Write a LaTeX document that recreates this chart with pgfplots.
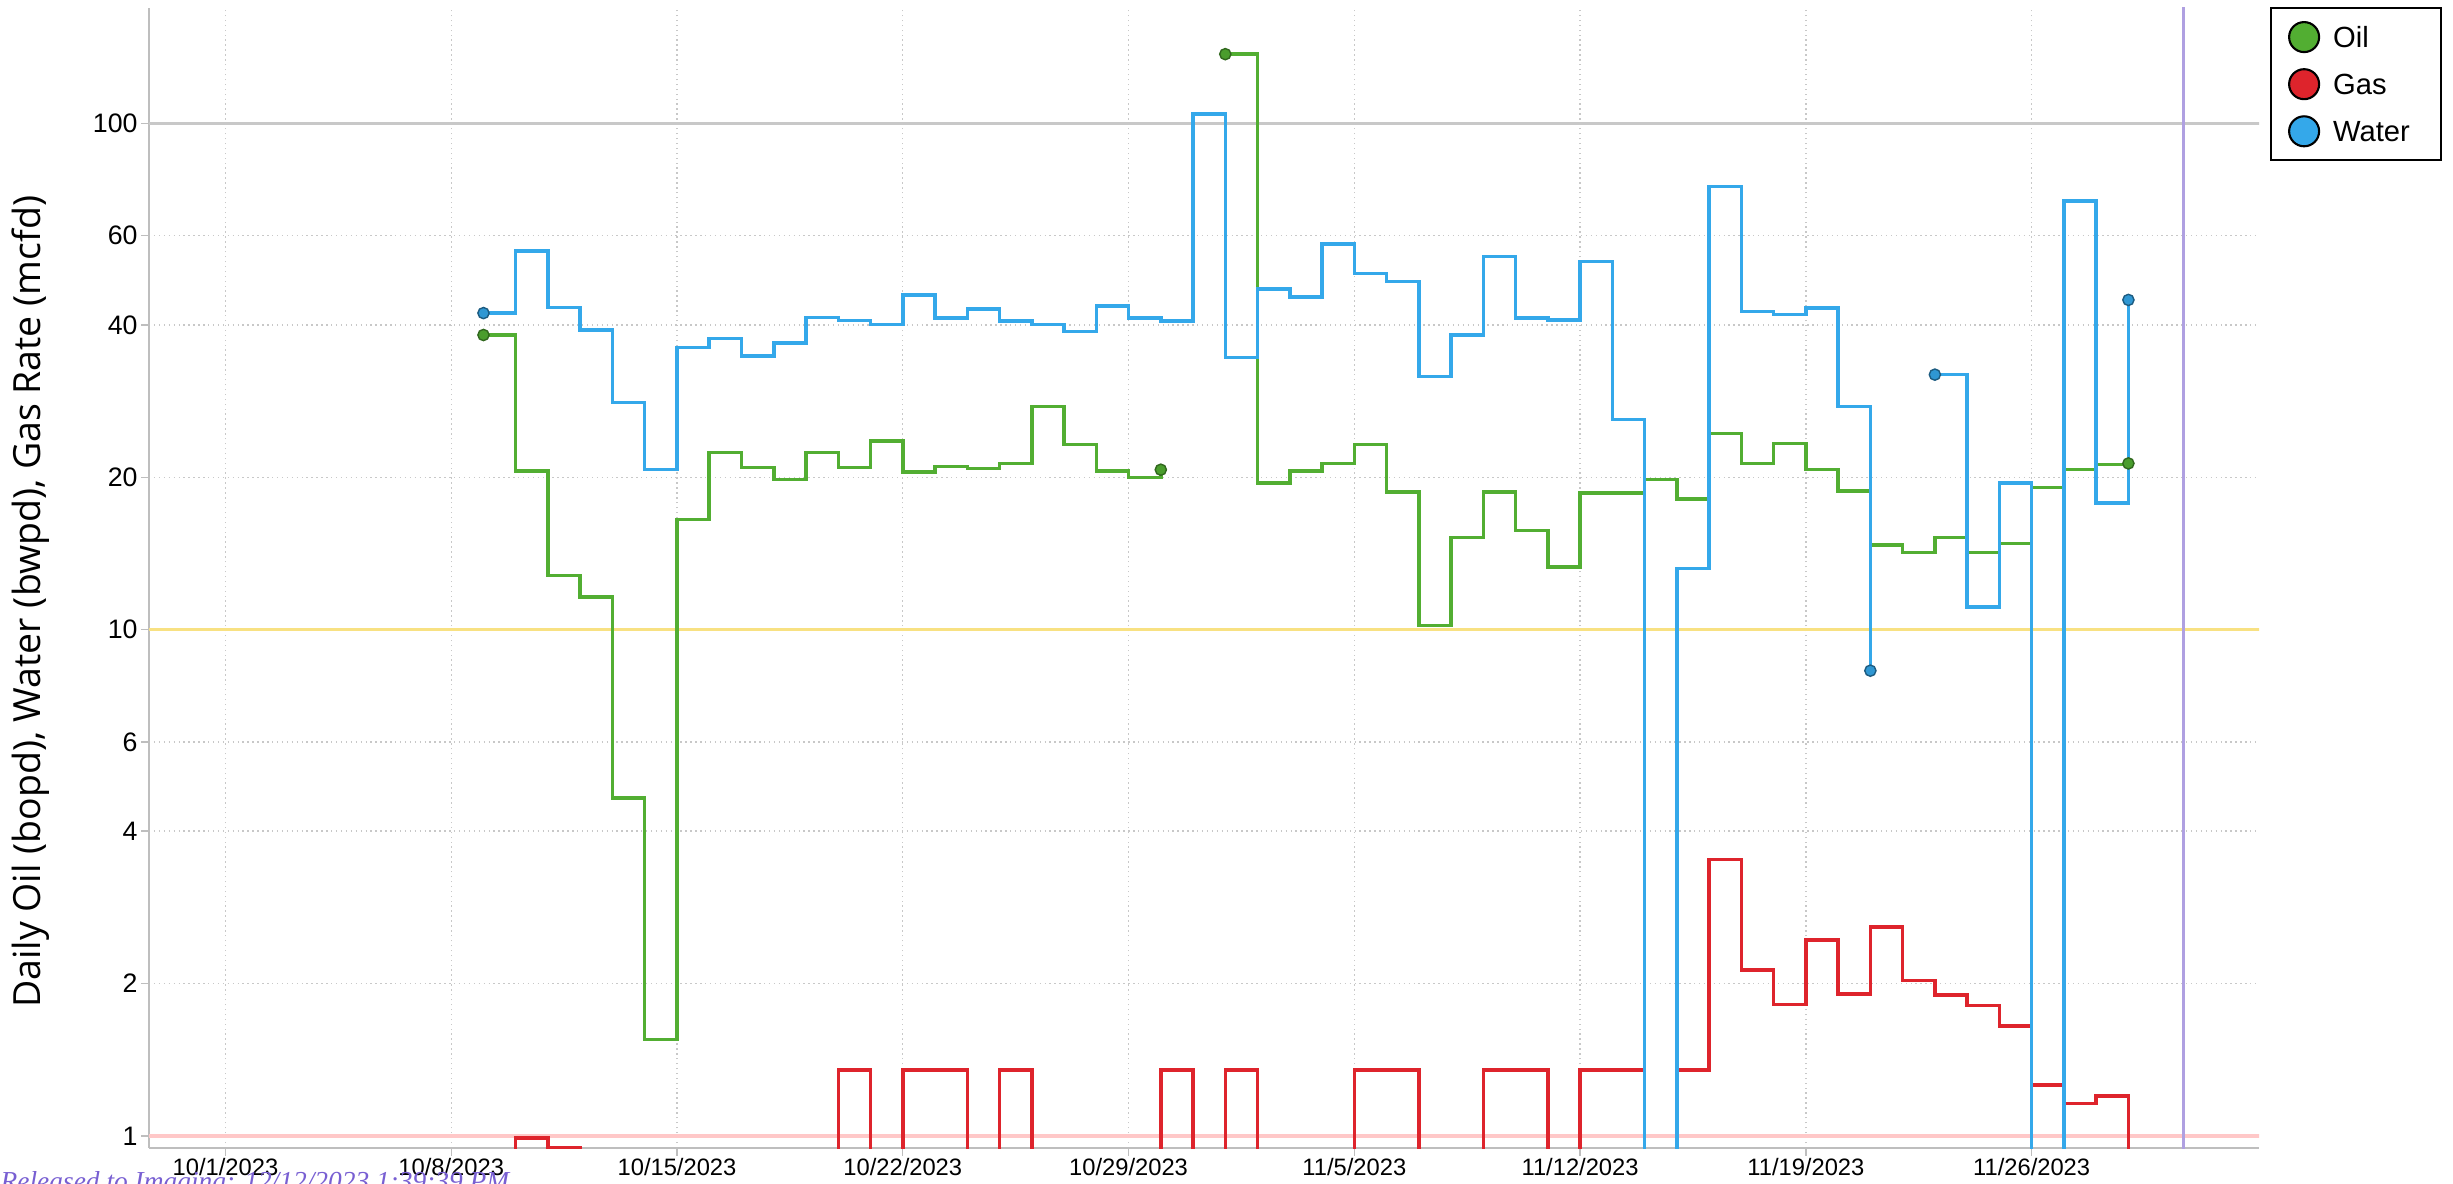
\documentclass[border=0pt]{standalone}
\usepackage{fontspec}
\setmainfont{Liberation Sans}
\newfontfamily\labelfont{Open Sans}
\newfontfamily\wmfont{Liberation Serif}
\usepackage{pgfplots}
\pgfplotsset{compat=1.18}
\definecolor{oilc}{RGB}{82,174,50}
\definecolor{waterc}{RGB}{52,168,234}
\definecolor{gasc}{RGB}{222,36,44}
\definecolor{axisgray}{RGB}{190,190,190}
\definecolor{gridgray}{RGB}{200,200,200}
\definecolor{refgray}{RGB}{200,200,200}
\definecolor{refyellow}{RGB}{248,225,130}
\definecolor{refpink}{RGB}{255,200,200}
\definecolor{refpurple}{RGB}{175,160,225}
\definecolor{wmc}{RGB}{120,95,210}
\begin{document}
\begin{tikzpicture}
\useasboundingbox (0,0) rectangle (24.53,11.83);
\begin{axis}[
  at={(1.49cm,0.35cm)}, anchor=south west,
  width=21.10cm, height=11.40cm, scale only axis,
  ymode=log, xmin=-2.37, xmax=63.05, ymin=0.947, ymax=169,
  axis lines*=left,
  axis line style={-, draw=axisgray, line width=0.7pt},
  xtick={0,7,14,21,28,35,42,49,56},
  xticklabels={10/1/2023,10/8/2023,10/15/2023,10/22/2023,10/29/2023,11/5/2023,11/12/2023,11/19/2023,11/26/2023},
  ytick={1,2,4,6,10,20,40,60,100},
  yticklabels={1,2,4,6,10,20,40,60,100},
  yminorticks=false, xminorticks=false,
  grid=major,
  major grid style={densely dotted, gridgray, line width=0.4pt},
  tick align=outside, major tick length=0.08cm,
  tick style={axisgray, line width=0.4pt},
  xticklabel style={font=\fontsize{6.75}{8}\selectfont, text=black, inner sep=0pt, yshift=-0.02cm},
  yticklabel style={font=\fontsize{7.6}{9}\selectfont, text=black, inner sep=0.8pt},
  /pgf/number format/assume math mode=true,
  ylabel={Daily Oil (bopd), Water (bwpd), Gas Rate (mcfd)},
  ylabel style={at={(rel axis cs:-0.0563,0.479)}, anchor=center, font=\labelfont\fontsize{10.65}{12}\selectfont},
  legend image code/.code={\fill[#1] (0.15cm,0cm) circle[radius=0.15cm];},
  legend cell align=left,
  legend style={at={(rel axis cs:1.00521,1.00088)}, anchor=north west, draw=black, line width=0.6pt, fill=white,
    inner xsep=0.17cm, inner ysep=0.13cm, row sep=0.15cm, column sep=0.13cm,
    font=\fontsize{8.3}{10}\selectfont,
    nodes={inner sep=0pt, text height=0.25cm, text depth=0.05cm, text width=0.91cm, align=left}},
]
\addlegendimage{fill=oilc}\addlegendentry{Oil}
\addlegendimage{fill=gasc}\addlegendentry{Gas}
\addlegendimage{fill=waterc}\addlegendentry{Water}

% reference lines
\addplot[refgray, line width=0.9pt, forget plot] coordinates {(-5,100) (70,100)};
\addplot[refyellow, line width=0.9pt, forget plot] coordinates {(-5,10) (70,10)};
\addplot[refpink, line width=1.1pt, forget plot] coordinates {(-5,1) (70,1)};
\addplot[refpurple, line width=0.9pt, forget plot] coordinates {(60.71,0.5) (60.71,300)};

% Oil
\addplot[const plot, oilc, line width=1pt, forget plot] coordinates {
(8,38.2)(9,20.6)(10,12.8)(11,11.6)(12,4.65)(13,1.55)(14,16.5)(15,22.4)(16,20.9)(17,19.8)(18,22.4)(19,20.9)(20,23.6)(21,20.5)(22,21.0)(23,20.8)(24,21.3)(25,27.6)(26,23.2)(27,20.6)(28,20.0)(29,20.7)};
\addplot[const plot, oilc, line width=1pt, forget plot] coordinates {
(31,137)(32,19.5)(33,20.6)(34,21.3)(35,23.2)(36,18.7)(37,10.2)(38,15.2)(39,18.7)(40,15.7)(41,13.3)(42,18.6)(43,18.6)(44,19.8)(45,18.1)(46,24.4)(47,21.3)(48,23.3)(49,20.7)(50,18.8)(51,14.7)(52,14.2)(53,15.2)(54,14.2)(55,14.8)(56,19.1)(57,20.7)(58,21.2)(59,21.3)};

% Gas (0 shown as 0.3, below the axis)
\addplot[const plot, gasc, line width=1pt, forget plot] coordinates {
(8,0.3)(9,0.99)(10,0.95)(11,0.3)(19,1.35)(20,0.3)(21,1.35)(23,0.3)(24,1.35)(25,0.3)(29,1.35)(30,0.3)(31,1.35)(32,0.3)(35,1.35)(37,0.3)(39,1.35)(41,0.3)(42,1.35)(44,0.3)(45,1.35)(46,3.52)(47,2.13)(48,1.82)(49,2.44)(50,1.91)(51,2.59)(52,2.03)(53,1.90)(54,1.81)(55,1.65)(56,1.26)(57,1.16)(58,1.20)(59,0.3)};

% Water
\addplot[const plot, waterc, line width=1pt, forget plot] coordinates {
(8,42.2)(9,56.0)(10,43.3)(11,39.1)(12,28.1)(13,20.7)(14,36.1)(15,37.6)(16,34.7)(17,36.8)(18,41.4)(19,40.8)(20,40.1)(21,45.8)(22,41.3)(23,43.0)(24,40.7)(25,40.1)(26,38.8)(27,43.6)(28,41.3)(29,40.7)(30,104.4)(31,34.5)(32,47.1)(33,45.4)(34,57.8)(35,50.5)(36,48.7)(37,31.6)(38,38.2)(39,54.6)(40,41.3)(41,40.9)(42,53.4)(43,26.0)(44,0.3)(45,13.2)(46,75)(47,42.5)(48,41.9)(49,43.2)(50,27.6)(51,8.3)};
\addplot[const plot, waterc, line width=1pt, forget plot] coordinates {
(53,31.9)(54,11.1)(55,19.5)(56,0.3)(57,70.3)(58,17.8)(59,44.8)};

% end markers
\addplot[only marks, mark=*, mark size=1.6pt, mark options={fill=oilc!90!black, draw=oilc!60!black, line width=0.4pt}, forget plot]
  coordinates {(8,38.2)(29,20.7)(31,137)(59,21.3)};
\addplot[only marks, mark=*, mark size=1.6pt, mark options={fill=waterc!90!black, draw=waterc!55!black, line width=0.4pt}, forget plot]
  coordinates {(8,42.2)(51,8.3)(53,31.9)(59,44.8)};
\end{axis}
\node[anchor=base west, font=\wmfont\itshape\fontsize{7.8}{9}\selectfont, text=wmc, inner sep=0pt] at (0,-0.07) {Released to Imaging: 12/12/2023 1:39:39 PM};
\end{tikzpicture}
\end{document}
